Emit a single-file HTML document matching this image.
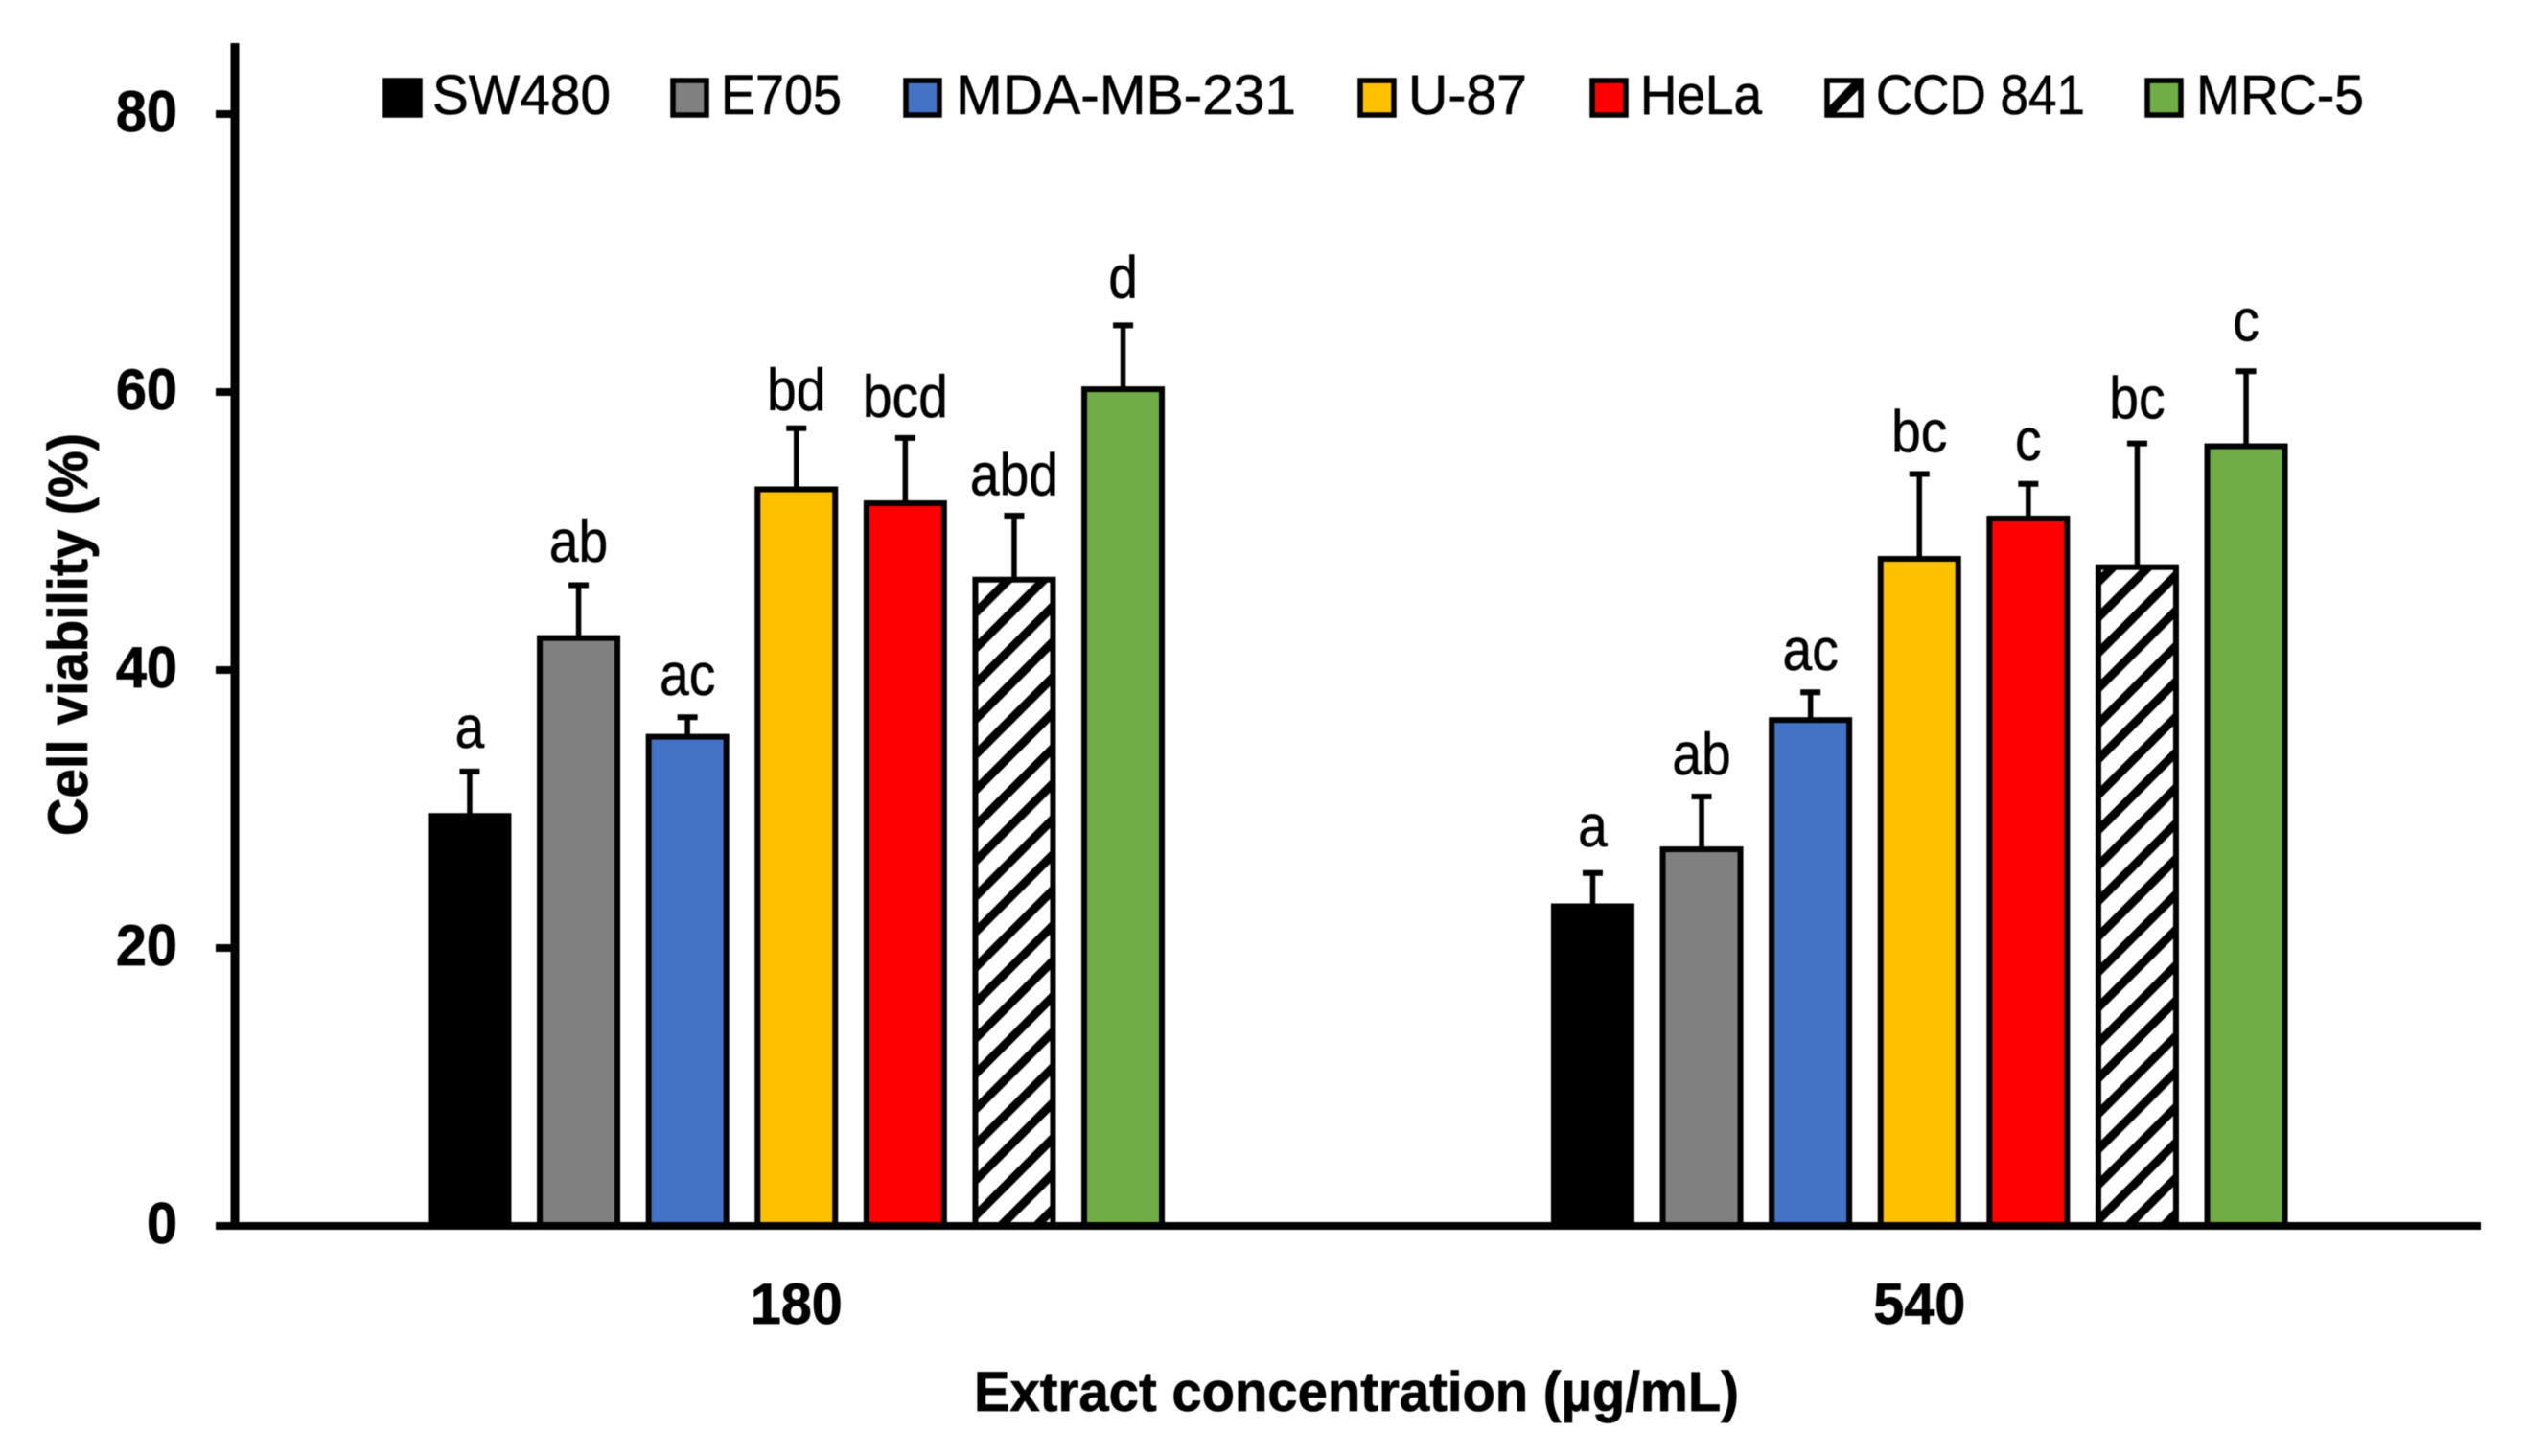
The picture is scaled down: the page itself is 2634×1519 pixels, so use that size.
<!DOCTYPE html>
<html lang="en">
<head>
<meta charset="utf-8">
<title>Cell viability bar chart</title>
<style>
html,body{margin:0;padding:0;background:#fff;width:2634px;height:1519px;overflow:hidden}
svg{display:block;filter:blur(0.6px)}
text{font-family:"Liberation Sans",sans-serif;fill:#000}
.tick{font-weight:bold;font-size:60px;stroke:#000;stroke-width:0.7px}
.title{font-weight:bold;font-size:58px;stroke:#000;stroke-width:0.7px}
.leg{font-size:58px;stroke:#000;stroke-width:0.6px}
.sig{font-size:62px;text-anchor:middle;stroke:#000;stroke-width:0.5px}
</style>
</head>
<body>
<svg id="chart" xmlns="http://www.w3.org/2000/svg" width="2634" height="1519" viewBox="0 0 2634 1519">
  <defs>
    <pattern id="hatch-0" patternUnits="userSpaceOnUse" width="26.16" height="26.16" patternTransform="translate(1650.6 0) rotate(45)">
      <rect width="26.16" height="26.16" fill="#fff"/>
      <rect width="9" height="26.16" fill="#000"/>
    </pattern>
    <pattern id="hatch-1" patternUnits="userSpaceOnUse" width="26.16" height="26.16" patternTransform="translate(2863.6 0) rotate(45)">
      <rect width="26.16" height="26.16" fill="#fff"/>
      <rect width="9" height="26.16" fill="#000"/>
    </pattern>
  </defs>
  <rect width="2634" height="1519" fill="#fff"/>
  <g id="marks"></g>
  <g id="axes"></g>
  <text class="title" x="1016" y="1472" textLength="798" lengthAdjust="spacingAndGlyphs">Extract concentration (µg/mL)</text>
  <text class="title" transform="translate(91 872) rotate(-90)" x="0" y="0" textLength="420" lengthAdjust="spacingAndGlyphs">Cell viability (%)</text>
  <g>
    <g>
      <rect x="402" y="84" width="36" height="36" fill="#000" stroke="#000" stroke-width="5.5"/>
      <text class="leg" x="451" y="119" textLength="186" lengthAdjust="spacingAndGlyphs">SW480</text>
    </g>
    <g>
      <rect x="702" y="84" width="35" height="36" fill="#808080" stroke="#000" stroke-width="5.5"/>
      <text class="leg" x="752" y="119" textLength="126" lengthAdjust="spacingAndGlyphs">E705</text>
    </g>
    <g>
      <rect x="945" y="84" width="35" height="36" fill="#4472C4" stroke="#000" stroke-width="5.5"/>
      <text class="leg" x="997" y="119" textLength="355" lengthAdjust="spacingAndGlyphs">MDA-MB-231</text>
    </g>
    <g>
      <rect x="1419" y="84" width="35" height="36" fill="#FFC000" stroke="#000" stroke-width="5.5"/>
      <text class="leg" x="1469" y="119" textLength="124" lengthAdjust="spacingAndGlyphs">U-87</text>
    </g>
    <g>
      <rect x="1661" y="84" width="35" height="36" fill="#FF0000" stroke="#000" stroke-width="5.5"/>
      <text class="leg" x="1711" y="119" textLength="127" lengthAdjust="spacingAndGlyphs">HeLa</text>
    </g>
    <g>
      <rect x="1906" y="84" width="35" height="36" fill="#fff"/>
      <line x1="1908" y1="118" x2="1939" y2="86" stroke="#000" stroke-width="10"/>
      <rect x="1906" y="84" width="35" height="36" fill="none" stroke="#000" stroke-width="5.5"/>
      <text class="leg" x="1957" y="119" textLength="218" lengthAdjust="spacingAndGlyphs">CCD 841</text>
    </g>
    <g>
      <rect x="2240" y="84" width="35" height="36" fill="#70AD47" stroke="#000" stroke-width="5.5"/>
      <text class="leg" x="2291" y="119" textLength="175" lengthAdjust="spacingAndGlyphs">MRC-5</text>
    </g>
  </g>
</svg>
<script>
const categories = ["180", "540"];
const seriesNames = ["SW480", "E705", "MDA-MB-231", "U-87", "HeLa", "CCD 841", "MRC-5"];
const seriesFills = ["#000000", "#808080", "#4472C4", "#FFC000", "#FF0000", "hatch", "#70AD47"];
const yTicks = [0, 20, 40, 60, 80];
const values180 = [29.5, 42.3, 35.2, 53.0, 52.0, 46.5, 60.2];
const values540 = [23.0, 27.1, 36.4, 48.0, 50.9, 47.4, 56.1];
const errors180 = [3.2, 3.8, 1.4, 4.4, 4.7, 4.6, 4.6];
const errors540 = [2.4, 3.8, 2.0, 6.1, 2.5, 8.9, 5.4];
const letters180 = ["a", "ab", "ac", "bd", "bcd", "abd", "d"];
const letters540 = ["a", "ab", "ac", "bc", "c", "bc", "c"];
const letterLevels180 = [34.4, 47.8, 38.2, 58.7, 58.2, 52.6, 66.8];
const letterLevels540 = [27.3, 32.5, 40.0, 55.7, 55.1, 58.1, 63.7];

const valuesByCategory = [values180, values540];
const errorsByCategory = [errors180, errors540];
const lettersByCategory = [letters180, letters540];
const levelsByCategory = [letterLevels180, letterLevels540];

const NS = "http://www.w3.org/2000/svg";
const plotLeft = 245, plotRight = 2588, zeroY = 1279, pxPerUnit = 14.5;
const barPitch = 113.6, barWidth = 81;

function yScale(v) { return zeroY - v * pxPerUnit; }
function xCategory(i) { return plotLeft + (plotRight - plotLeft) * (i + 0.5) / categories.length; }
function xBar(i, s) { return xCategory(i) + (s - (seriesNames.length - 1) / 2) * barPitch; }
function make(tag, attrs, parent) {
  const el = document.createElementNS(NS, tag);
  for (const k in attrs) el.setAttribute(k, attrs[k]);
  parent.appendChild(el);
  return el;
}
function slug(t) { return t.toLowerCase().replace(/[^a-z0-9]+/g, "-"); }
function squeeze(el, factor) {
  el.setAttribute("textLength", (el.getComputedTextLength() * factor).toFixed(1));
  el.setAttribute("lengthAdjust", "spacingAndGlyphs");
}

const marks = document.getElementById("marks");
const axes = document.getElementById("axes");

categories.forEach(function (cat, i) {
  seriesNames.forEach(function (name, s) {
    const v = valuesByCategory[i][s];
    const e = errorsByCategory[i][s];
    const cx = xBar(i, s);
    const label = slug(name) + "-" + cat;
    const fill = seriesFills[s] === "hatch" ? "url(#hatch-" + i + ")" : seriesFills[s];

    const stem = make("line", { x1: cx, x2: cx, y1: yScale(v), y2: yScale(v + e), stroke: "#000", "stroke-width": 5.5 }, marks);
    
    

    const cap = make("line", { x1: cx - 10.5, x2: cx + 10.5, y1: yScale(v + e), y2: yScale(v + e), stroke: "#000", "stroke-width": 6 }, marks);
    
    

    const bar = make("rect", { x: cx - barWidth / 2, y: yScale(v), width: barWidth, height: yScale(0) - yScale(v), fill: fill, stroke: "#000", "stroke-width": 6 }, marks);
    
    

    const sig = make("text", { x: cx, y: yScale(levelsByCategory[i][s]), "class": "sig" }, marks);
    
    
    sig.textContent = lettersByCategory[i][s];
    squeeze(sig, 0.89);
  });

  const catLabel = make("text", { x: xCategory(i), y: 1381, "class": "tick", "text-anchor": "middle" }, axes);
  
  
  catLabel.textContent = cat;
  squeeze(catLabel, 0.96);
});

const yAxis = make("line", { x1: plotLeft, x2: plotLeft, y1: 45, y2: zeroY + 4, stroke: "#000", "stroke-width": 9 }, axes);



const xAxis = make("line", { x1: plotLeft, x2: plotRight, y1: zeroY, y2: zeroY, stroke: "#000", "stroke-width": 8 }, axes);



yTicks.forEach(function (t) {
  const mark = make("line", { x1: 225, x2: plotLeft, y1: yScale(t), y2: yScale(t), stroke: "#000", "stroke-width": 8 }, axes);
  
  

  const lab = make("text", { x: 185, y: yScale(t) + 18, "class": "tick", "text-anchor": "end" }, axes);
  
  
  lab.textContent = t;
  squeeze(lab, 0.96);
});
</script>
</body>
</html>
